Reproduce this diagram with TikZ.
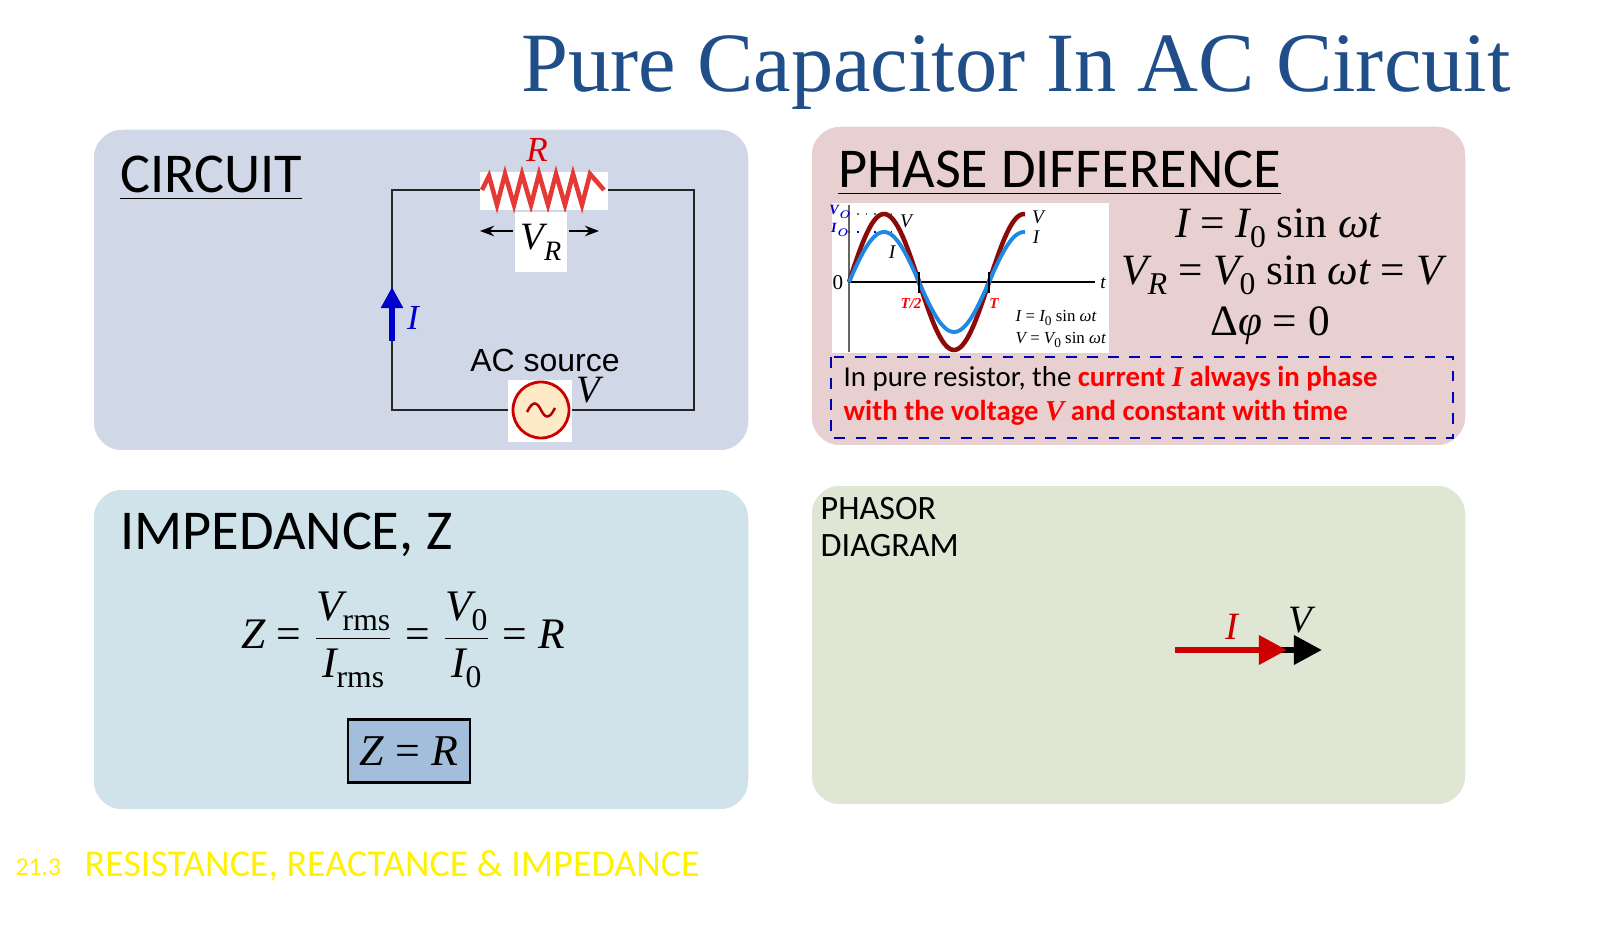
\documentclass[tikz,border=0pt]{standalone}
\usepackage{fontspec}
\setmainfont{Carlito}
\newfontfamily\tms{Liberation Serif}
\newfontfamily\arl{Liberation Sans}
\newcommand{\myit}[1]{{\tms\itshape #1}}
\newcommand{\myrm}[1]{{\tms #1}}
\usetikzlibrary{arrows.meta}
\definecolor{titleblue}{HTML}{1F4E89}
\definecolor{pcirc}{HTML}{D0D8E8}
\definecolor{pphase}{HTML}{E8D0D0}
\definecolor{pimp}{HTML}{D0E2EA}
\definecolor{pphas}{HTML}{DFE6D3}
\definecolor{vred}{HTML}{8B0A0A}
\definecolor{iblue}{HTML}{1E88E5}
\definecolor{rred}{HTML}{E53935}
\definecolor{zbox}{HTML}{A3BEDA}
\tikzset{
 panel/.style={rounded corners=0.3cm,draw=white,line width=1pt},
 wire/.style={draw=black!85,line width=0.5pt},
 head/.style={anchor=base west,font=\fontsize{16}{16}\selectfont},
 wbox/.style={fill=white,draw=none},
}
\begin{document}
\begin{tikzpicture}[x=0.01cm,y=-0.01cm]
\useasboundingbox (0,0) rectangle (1600,925);
\fill[white] (0,0) rectangle (1600,925);
% title
\node[anchor=base east,text=titleblue,font=\tms\fontsize{24}{24}\selectfont] (title) at (1523,92) {Pure Capacitor In AC Circuit};
% panels
\draw[panel,fill=pcirc] (92,128) rectangle (750,452);
\draw[panel,fill=pphase] (810,125) rectangle (1467,447);
\draw[panel,fill=pimp] (92,488) rectangle (750,811);
\draw[panel,fill=pphas] (810,484) rectangle (1467,806);
% headings
\node[head] (hc) at (108,193) {\underline{CIRCUIT}};
\node[head] (hp) at (826,188) {\underline{PHASE DIFFERENCE}};
\node[head] (hi) at (108,550) {IMPEDANCE, Z};
\node[anchor=north west,align=left,font=\fontsize{9.7}{10.5}\selectfont,inner sep=0] (hph) at (820,497) {PHASOR\\DIAGRAM};
% circuit
\draw[wire] (480,190) -| (392,410) -- (512,410);
\draw[wire] (608,190) -| (694,410) -- (570,410);
\node[wbox,minimum width=1.28cm,minimum height=0.38cm] (res) at (544,191) {};
\draw[rred,line width=1.3pt,line join=miter] (482,190) -- (489,176)
 \foreach \k in {0,...,5}{ -- ({497+\k*17},205) -- ({505+\k*17},174)} -- (604,190);
\node[text=red!85!black,font=\tms\itshape\fontsize{10}{10}\selectfont] (R) at (537,150) {R};
\node[wbox,minimum width=0.52cm,minimum height=0.6cm] (vrb) at (541,242) {};
\node[font=\fontsize{11}{11}\selectfont] (vr) at (541,242) {\myit{V}\raisebox{-0.6ex}{\fontsize{8}{8}\selectfont\myit{R}}};
\draw[-{Stealth[length=4pt]},line width=0.6pt] (513,231) -- (480,231);
\draw[-{Stealth[length=4pt]},line width=0.6pt] (569,231) -- (599,231);
\draw[blue!80!black,line width=1.5pt,-{Triangle[length=6pt,width=6pt]}] (392,341) -- (392,287);
\node[text=blue!80!black,font=\tms\itshape\fontsize{10}{10}\selectfont] (Ilab) at (413,318) {I};
\node[font=\arl\fontsize{9.1}{9.1}\selectfont] (acs) at (545,360) {AC source};
\node[wbox,minimum width=0.64cm,minimum height=0.62cm] (srcb) at (540,411) {};
\node[circle,draw=red!80!black,fill=yellow!25!orange!20!white,line width=0.8pt,minimum size=0.56cm,inner sep=0] (src) at (541,410) {};
\draw[red!70!black,line width=0.7pt] (527,412) .. controls (533,400) and (537,402) .. (541,410) .. controls (545,418) and (549,420) .. (555,408);
\node[font=\tms\itshape\fontsize{11}{11}\selectfont] (V) at (588,390) {V};
% phase graph
\node[wbox,minimum width=2.77cm,minimum height=1.5cm,anchor=north west] (gbox) at (831,202) {};
\draw[black!60,line width=0.6pt] (849,205) -- (849,352);
\draw[black,line width=0.6pt] (849,282) -- (1095,282);
\node[font=\tms\itshape\fontsize{5.5}{5.5}\selectfont] (tl) at (1103,283) {t};
\node[font=\tms\fontsize{6}{6}\selectfont] (zl) at (838,283) {0};
\draw[black!60,dotted] (849,214) -- (892,214);
\draw[blue,dotted] (849,232) -- (892,232);
\node[text=blue!80!black,font=\tms\bfseries\itshape\fontsize{4}{4}\selectfont,inner sep=0] (v0) at (841,212) {V$_o$};
\node[text=blue!80!black,font=\tms\bfseries\itshape\fontsize{4}{4}\selectfont,inner sep=0] (i0) at (841,230) {I$_o$};
\draw[vred,line width=1.3pt,domain=0:176,samples=80] plot ({849+\x},{282-68*sin(\x/140*360)});
\draw[iblue,line width=1.1pt,domain=0:176,samples=80] plot ({849+\x},{282-50*sin(\x/140*360)});
\draw[line width=0.6pt] (919,272) -- (919,293);
\draw[line width=0.6pt] (989,272) -- (989,293);
\node[text=red,font=\tms\bfseries\itshape\fontsize{4.3}{4.3}\selectfont] (t2) at (911,304) {T/2};
\node[text=red,font=\tms\bfseries\itshape\fontsize{4.3}{4.3}\selectfont] (t1) at (994,304) {T};
\node[font=\tms\itshape\fontsize{5.5}{5.5}\selectfont] (vl) at (906,221) {V};
\node[font=\tms\itshape\fontsize{5.5}{5.5}\selectfont] (il) at (892,252) {I};
\node[font=\tms\itshape\fontsize{5.5}{5.5}\selectfont] (vl2) at (1038,217) {V};
\node[font=\tms\itshape\fontsize{5.5}{5.5}\selectfont] (il2) at (1036,237) {I};
\node[anchor=west,font=\tms\fontsize{4.8}{4.8}\selectfont,inner sep=0] (e1) at (1015,318) {\itshape I\upshape{} = \itshape I\upshape\raisebox{-0.4ex}{\fontsize{3.8}{3.8}\selectfont 0} sin \itshape ωt};
\node[anchor=west,font=\tms\fontsize{4.8}{4.8}\selectfont,inner sep=0] (e2) at (1015,340) {\itshape V\upshape{} = \itshape V\upshape\raisebox{-0.4ex}{\fontsize{3.8}{3.8}\selectfont 0} sin \itshape ωt};
% phase equations
\node[font=\tms\fontsize{12.3}{12.3}\selectfont] (q1) at (1278,228) {\itshape I\upshape{} = \itshape I\upshape\raisebox{-0.5ex}{\fontsize{9}{9}\selectfont 0} sin \itshape ωt};
\node[font=\tms\fontsize{12.3}{12.3}\selectfont] (q2) at (1282,275) {\itshape V\upshape\raisebox{-0.5ex}{\fontsize{9}{9}\selectfont\itshape R}\upshape{} = \itshape V\upshape\raisebox{-0.5ex}{\fontsize{9}{9}\selectfont 0} sin \itshape ωt\upshape{} = \itshape V};
\node[font=\tms\fontsize{12.3}{12.3}\selectfont] (q3) at (1270,326) {Δ\itshape φ\upshape{} = 0};
\draw[blue!70!black,dashed,line width=0.6pt] (831,357) rectangle (1453,438);
\node[anchor=base west,font=\fontsize{8.2}{8.2}\selectfont,inner sep=0] (s1) at (843,387) {In pure resistor, the \textcolor{red}{\bfseries current \myit{I} always in phase}};
\node[anchor=base west,font=\fontsize{8.2}{8.2}\selectfont,text=red,inner sep=0] (s2) at (843,421) {\bfseries with the voltage \myit{V} and constant with time};
% impedance
\node[font=\tms\fontsize{12.4}{12.4}\selectfont] (zf) at (403,640) {\itshape Z\upshape{} = $\displaystyle\frac{\mbox{\myit{V}\raisebox{-0.5ex}{\fontsize{9}{9}\selectfont\myrm{rms}}}}{\mbox{\myit{I}\raisebox{-0.5ex}{\fontsize{9}{9}\selectfont\myrm{rms}}}}$ = $\displaystyle\frac{\mbox{\myit{V}\raisebox{-0.5ex}{\fontsize{9}{9}\selectfont\myrm{0}}}}{\mbox{\myit{I}\raisebox{-0.5ex}{\fontsize{9}{9}\selectfont\myrm{0}}}}$ = \itshape R};
\node[draw=black,fill=zbox,line width=0.6pt,minimum width=1.19cm,minimum height=0.63cm,font=\tms\fontsize{12.5}{12.5}\selectfont] (zr) at (409,751) {\itshape Z\upshape{} = \itshape R};
% phasor
\coordinate (o) at (1175,650);
\coordinate (pi) at (1287,650);
\coordinate (pv) at (1322,650);
\draw[line width=1.8pt,-{Triangle[length=8pt,width=8pt]}] (1270,650) -- (pv);
\draw[red!80!black,line width=1.8pt,-{Triangle[length=8pt,width=8pt]}] (o) -- (pi);
\node[text=red!80!black,font=\tms\itshape\fontsize{11}{11}\selectfont] (pI) at (1232,627) {I};
\node[font=\tms\itshape\fontsize{11}{11}\selectfont] (pV) at (1300,620) {V};
% footer
\node[anchor=base west,text=yellow,font=\fontsize{7.3}{7.3}\selectfont,inner sep=0] (f1) at (15,875) {21.3};
\node[anchor=base west,text=yellow,font=\fontsize{10.8}{10.8}\selectfont,inner sep=0] (f2) at (84,876) {RESISTANCE, REACTANCE \& IMPEDANCE};
\end{tikzpicture}
\end{document}
